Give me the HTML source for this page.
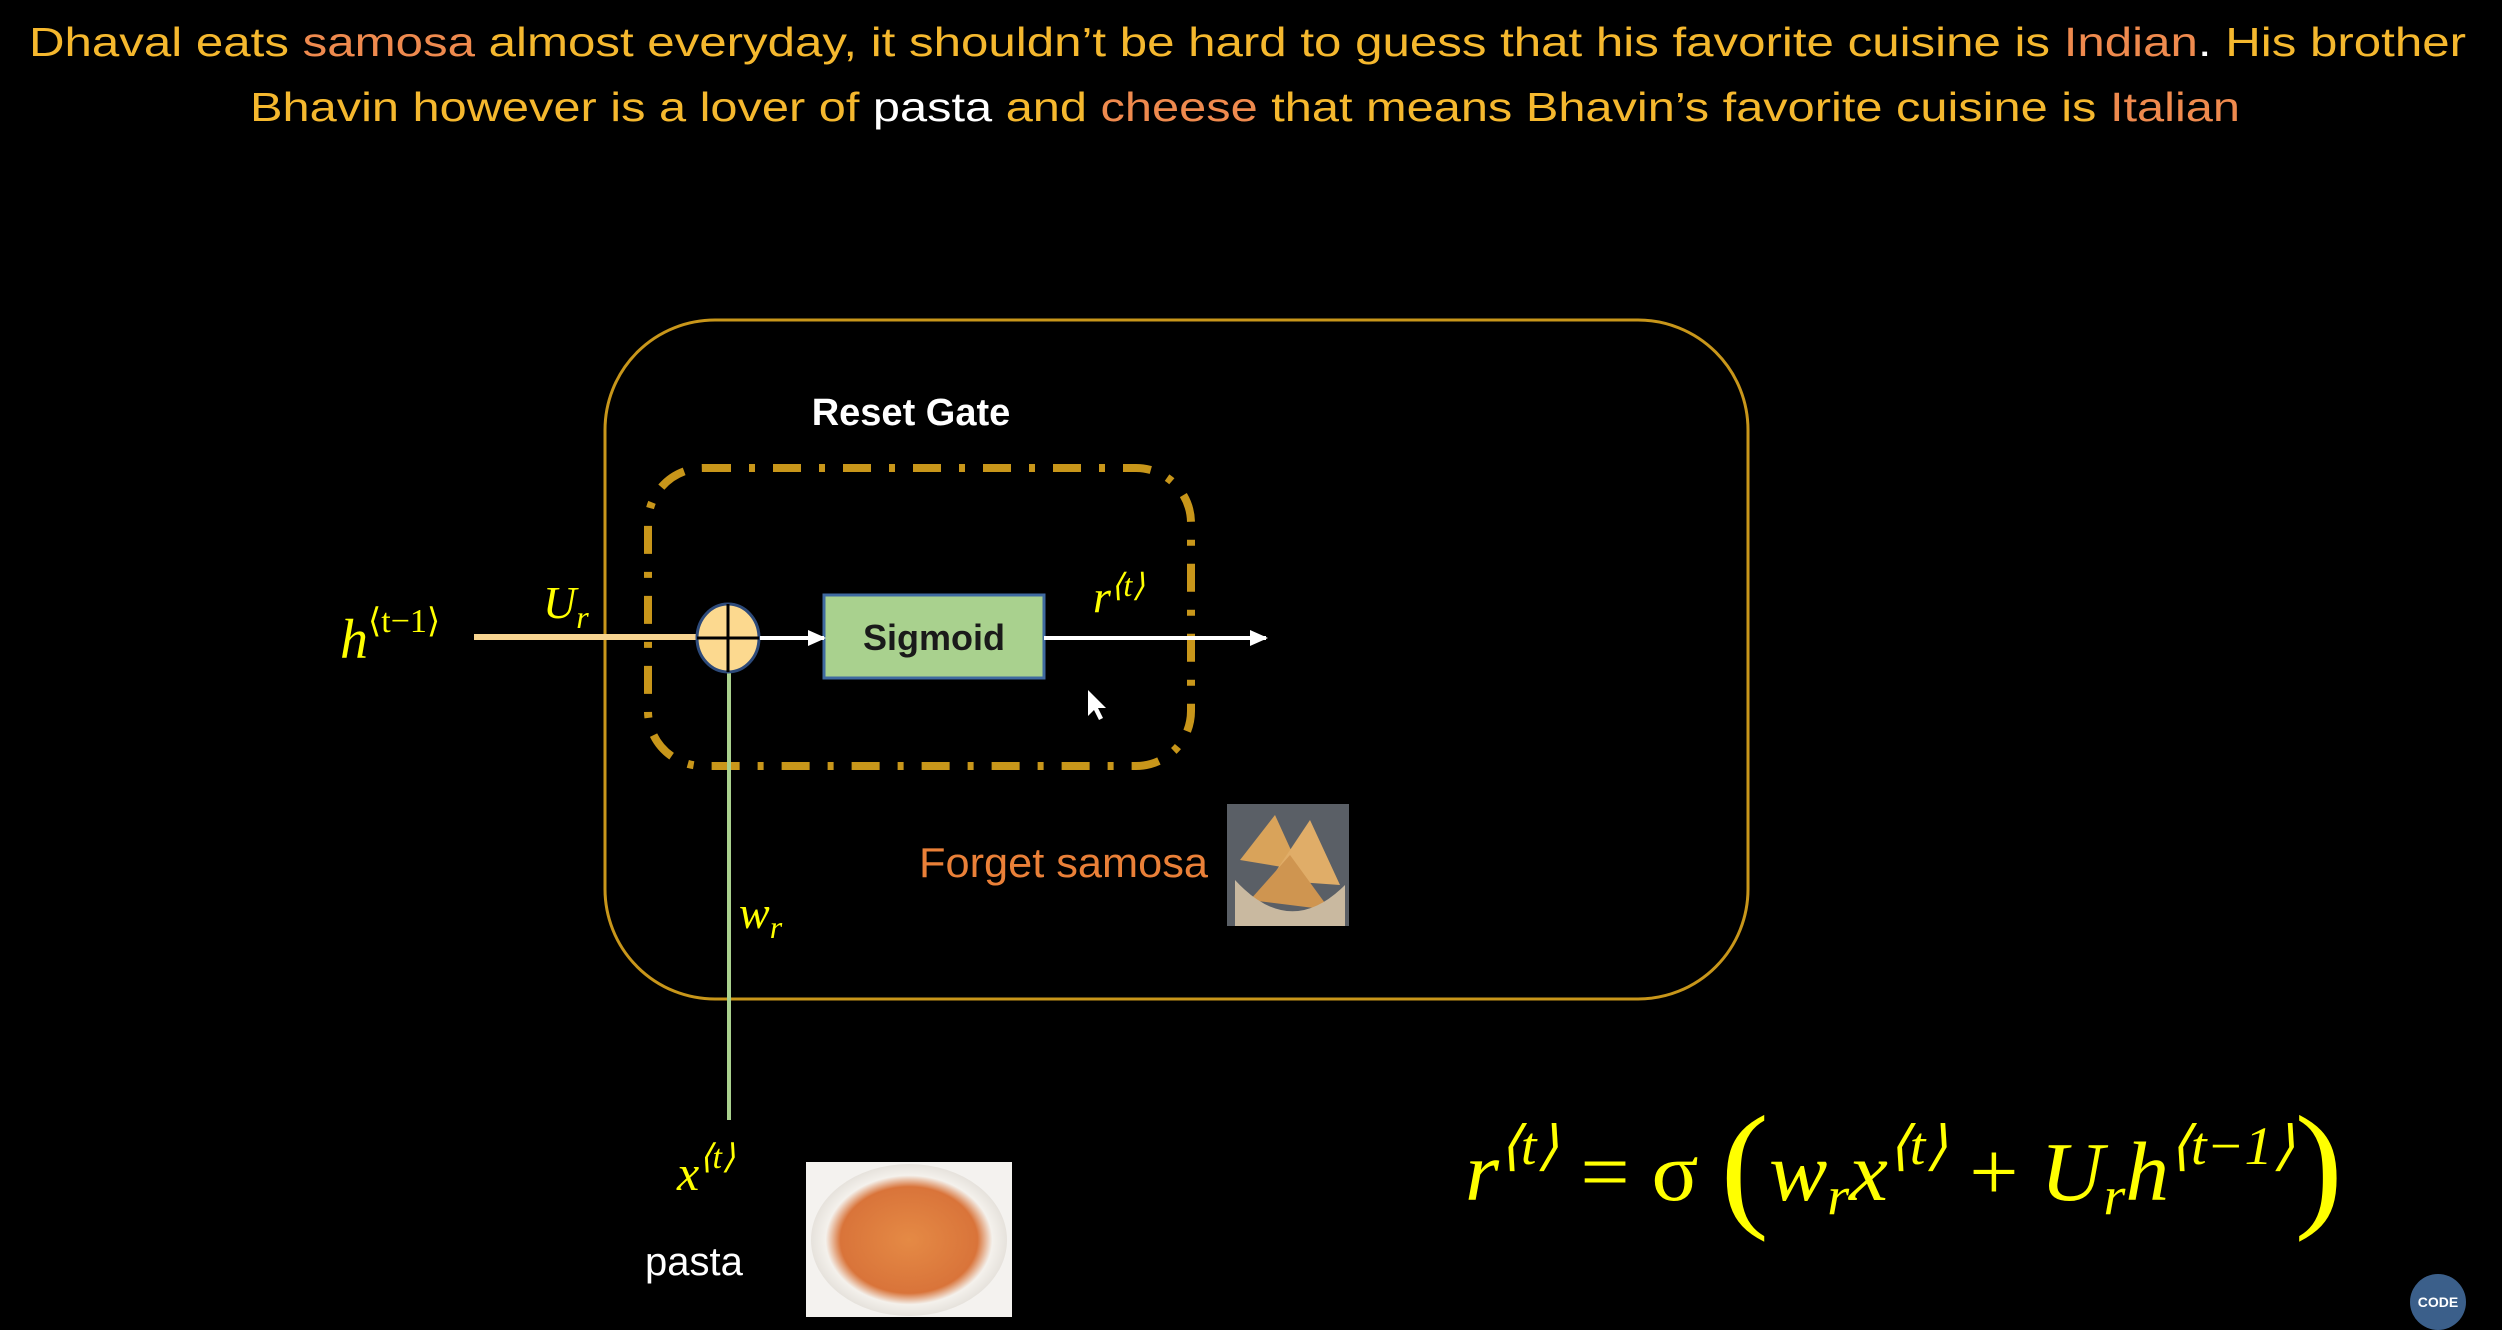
<!DOCTYPE html>
<html><head><meta charset="utf-8"><style>
html,body{margin:0;padding:0;background:#000;width:2502px;height:1330px;overflow:hidden}
svg{display:block}
</style></head><body>
<svg width="2502" height="1330" viewBox="0 0 2502 1330" xmlns="http://www.w3.org/2000/svg">
<defs>
<marker id="ah" markerWidth="18" markerHeight="18" refX="16" refY="9" orient="auto" markerUnits="userSpaceOnUse"><path d="M0,1 L18,9 L0,17 Z" fill="#fff"/></marker>
<radialGradient id="plate" cx="50%" cy="50%" r="50%"><stop offset="0" stop-color="#e58a45"/><stop offset="0.7" stop-color="#d9743a"/><stop offset="0.85" stop-color="#f4f1ec"/><stop offset="1" stop-color="#e6e2dc"/></radialGradient>
</defs>
<g font-family="'Liberation Sans', sans-serif" font-size="41">
<text x="29" y="56" textLength="2437" lengthAdjust="spacingAndGlyphs" fill="#f5b82e">Dhaval eats <tspan fill="#ef8a4e">samosa</tspan> almost everyday, it shouldn’t be hard to guess that his favorite cuisine is <tspan fill="#ef8a4e">Indian</tspan><tspan fill="#fff">.</tspan> His brother</text>
<text x="250" y="121" textLength="1990" lengthAdjust="spacingAndGlyphs" fill="#f5b82e">Bhavin however is a lover of <tspan fill="#fff">pasta</tspan> and <tspan fill="#ef8a4e">cheese</tspan> that means Bhavin’s favorite cuisine is <tspan fill="#ef8a4e">Italian</tspan></text>
</g>
<rect x="605" y="320" width="1143" height="679" rx="110" fill="none" stroke="#c8961a" stroke-width="3"/>
<text x="911" y="425" text-anchor="middle" font-family="'Liberation Sans', sans-serif" font-weight="bold" font-size="38" fill="#fff">Reset Gate</text>
<rect x="648" y="468" width="543" height="298" rx="55" fill="none" stroke="#c8961a" stroke-width="8" stroke-dasharray="28,18,6,18"/>
<line x1="474" y1="637" x2="705" y2="637" stroke="#f7d490" stroke-width="6"/>
<line x1="729" y1="672" x2="729" y2="1120" stroke="#a9d18e" stroke-width="4"/>
<ellipse cx="728" cy="638" rx="31" ry="34" fill="#fcd98f" stroke="#2d4a7a" stroke-width="3"/>
<line x1="697" y1="638" x2="759" y2="638" stroke="#000" stroke-width="3"/>
<line x1="728" y1="604" x2="728" y2="672" stroke="#000" stroke-width="3"/>
<rect x="824" y="595" width="220" height="83" fill="#a9d18e" stroke="#3f6aa0" stroke-width="3"/>
<line x1="760" y1="638" x2="824" y2="638" stroke="#fff" stroke-width="4" marker-end="url(#ah)"/>
<text x="934" y="650" text-anchor="middle" font-family="'Liberation Sans', sans-serif" font-weight="bold" font-size="36" fill="#1a1a1a">Sigmoid</text>
<line x1="1044" y1="638" x2="1266" y2="638" stroke="#fff" stroke-width="4" marker-end="url(#ah)"/>
<path d="M1088,690 l0,26 l6,-6 l5,10 l4,-2 l-5,-10 l8,0 z" fill="#fff"/>
<g font-family="'Liberation Serif', serif" font-style="italic" fill="#ffff00">
<text x="340" y="658" font-size="56">h<tspan font-style="normal" font-size="34" dy="-26">⟨t−1⟩</tspan></text>
<text x="543" y="618" font-size="46">U<tspan font-size="32" dy="10">r</tspan></text>
<text x="1093" y="612" font-size="46">r<tspan font-size="32" dy="-16">⟨t⟩</tspan></text>
<text x="739" y="928" font-size="46">w<tspan font-size="32" dy="10">r</tspan></text>
<text x="677" y="1190" font-size="50">x<tspan font-size="34" dy="-22">⟨t⟩</tspan></text>
<text x="1465" y="1200" font-size="84" textLength="878" lengthAdjust="spacingAndGlyphs">r<tspan font-size="54" dy="-36">⟨t⟩</tspan><tspan font-style="normal" dy="36"> = σ </tspan><tspan font-style="normal" font-size="140" dy="12">(</tspan><tspan dy="-12">w</tspan><tspan font-size="54" dy="14">r</tspan><tspan dy="-14">x</tspan><tspan font-size="54" dy="-36">⟨t⟩</tspan><tspan font-style="normal" dy="36"> + </tspan>U<tspan font-size="54" dy="14">r</tspan><tspan dy="-14">h</tspan><tspan font-size="54" dy="-36">⟨t−1⟩</tspan><tspan font-style="normal" font-size="140" dy="48">)</tspan></text>
</g>
<text x="919" y="877" font-family="'Liberation Sans', sans-serif" font-size="42" fill="#ea8038" textLength="289" lengthAdjust="spacingAndGlyphs">Forget samosa</text>
<text x="645" y="1275" font-family="'Liberation Sans', sans-serif" font-size="40" fill="#fff">pasta</text>
<rect x="1227" y="804" width="122" height="122" fill="#5a5f66"/>
<polygon points="1240,860 1275,815 1300,870" fill="#d9a35a"/>
<polygon points="1270,880 1310,820 1340,885" fill="#e0ad68"/>
<polygon points="1250,900 1290,855 1330,910" fill="#cf9550"/>
<path d="M1235,880 Q1290,940 1345,885 L1345,926 L1235,926 Z" fill="#c9b9a0"/>
<rect x="806" y="1162" width="206" height="155" fill="#f4f2ef"/>
<ellipse cx="909" cy="1240" rx="98" ry="76" fill="url(#plate)"/>
<circle cx="2438" cy="1302" r="28" fill="#3b5f8a"/>
<text x="2438" y="1307" text-anchor="middle" font-family="'Liberation Sans', sans-serif" font-size="14" font-weight="bold" fill="#fff">CODE</text>
</svg>
</body></html>
